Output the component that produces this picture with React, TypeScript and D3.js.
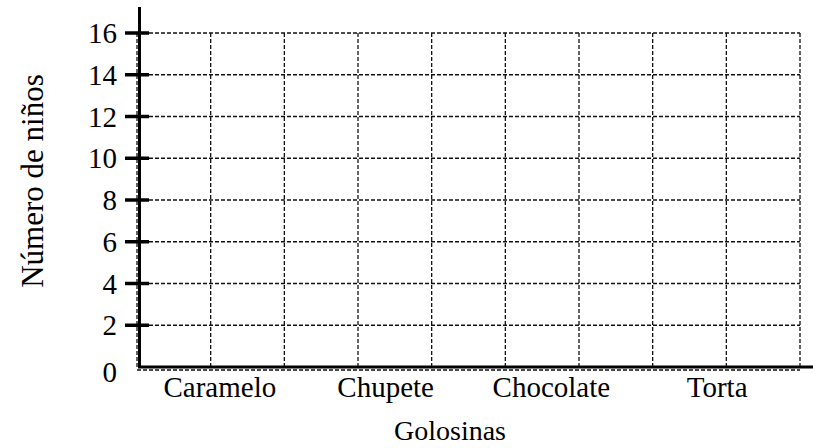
import * as d3 from "d3"

const CATEGORIES = ["Caramelo", "Chupete", "Chocolate", "Torta"]
const Y_TICKS = [0, 2, 4, 6, 8, 10, 12, 14, 16]
const Y_DOMAIN = [0, 16]
const X_TITLE = "Golosinas"
const Y_TITLE = "Número de niños"
const GRID_COLUMNS = 9

const W = 813
const H = 448
const FONT = "'Liberation Serif', Tinos, Times, serif"

export default function App() {
  const left = 137
  const right = 800
  const top = 33
  const bottom = 367

  const y = d3.scaleLinear().domain(Y_DOMAIN).range([bottom, top])
  const x = d3.scaleBand<string>().domain(CATEGORIES).range([left, right])
  const col = d3.scaleLinear().domain([0, GRID_COLUMNS]).range([left, right])
  const cols = d3.range(GRID_COLUMNS + 1)

  const txt = { fontFamily: FONT, fill: "#000" }

  return (
    <svg width={W} height={H} style={{ position: "absolute", left: 0, top: 0 }}>
      <rect width={W} height={H} fill="white" />

      {/* dashed grid */}
      <g stroke="#111" strokeWidth={1.3} strokeDasharray="4,2" fill="none">
        {Y_TICKS.map((t) => (
          <line key={"h" + t} x1={left} x2={right} y1={y(t) + (t === 0 ? 3 : 0)} y2={y(t) + (t === 0 ? 3 : 0)} />
        ))}
        {cols.map((c) => (
          <line key={"v" + c} x1={col(c)} x2={col(c)} y1={top} y2={bottom} />
        ))}
      </g>

      {/* axes */}
      <line x1={139.5} x2={139.5} y1={7} y2={bottom} stroke="#000" strokeWidth={3} />
      <line x1={138} x2={W} y1={bottom} y2={bottom} stroke="#000" strokeWidth={3} />

      {/* ticks and labels */}
      {Y_TICKS.map((t) => (
        <g key={"t" + t}>
          {t !== 0 && <line x1={125} x2={149} y1={y(t)} y2={y(t)} stroke="#000" strokeWidth={3.5} />}
          <text x={117} y={y(t) + (t === 0 ? 15 : 10)} textAnchor="end" fontSize={29} style={txt}>
            {t}
          </text>
        </g>
      ))}

      {CATEGORIES.map((c) => (
        <text key={c} x={(x(c) ?? 0) + x.bandwidth() / 2} y={397} textAnchor="middle" fontSize={29} style={txt}>
          {c}
        </text>
      ))}

      <text x={450} y={440} textAnchor="middle" fontSize={28} style={txt}>
        {X_TITLE}
      </text>
      <text transform={`translate(43, 181) rotate(-90)`} textAnchor="middle" fontSize={31} style={txt}>
        {Y_TITLE}
      </text>
    </svg>
  )
}
